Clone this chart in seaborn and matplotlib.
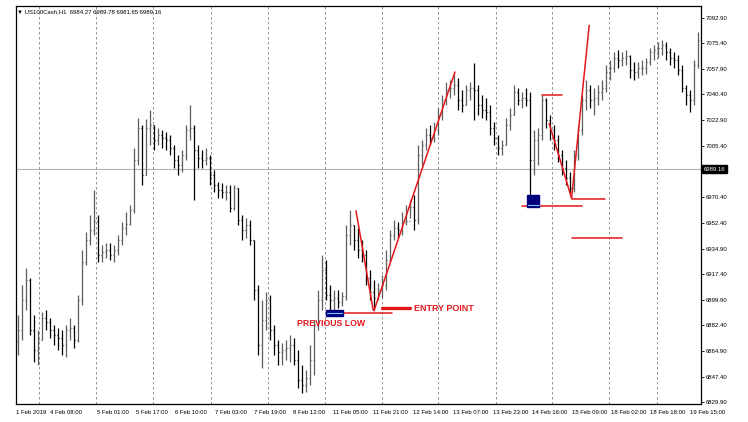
import numpy as np
import pandas as pd
import seaborn as sns
import matplotlib.pyplot as plt
from matplotlib.patches import Rectangle

sns.set_theme(style="white")
plt.rcParams['font.family'] = ['Liberation Sans', 'DejaVu Sans']

# header and last price shown on the chart
symbol_text = "\u25bc US100Cash,H1  6984.27 6989.78 6981.65 6989.16"
last_price = 6989.16

# hourly bars, open = previous close
first_open = 6872.0
high = [
    6889.8, 6910.0, 6921.7, 6914.8, 6889.8, 6879.3,
    6891.6, 6892.9, 6887.5, 6882.7, 6880.6, 6879.3, 6882.7, 6887.5, 6882.7,
    6903.2, 6933.9, 6946.2, 6957.8, 6974.9,
    6957.8, 6937.1, 6938.5, 6939.1, 6937.1,
    6944.2, 6953.0, 6959.9, 6964.7,
    7003.6, 7024.1, 7019.3, 7023.4, 7029.6,
    7019.3, 7017.2, 7015.9, 7014.5, 7012.5,
    7005.6, 6998.8, 7002.2,
    7019.3, 7032.9, 7019.3,
    7005.6, 7002.2, 7003.6, 6998.8, 6988.6,
    6980.4, 6979.7, 6978.3, 6978.3, 6978.3,
    6976.2, 6957.8, 6955.8, 6954.4,
    6940.8, 6910.0, 6899.8, 6905.2, 6903.2,
    6882.7, 6872.4, 6870.4, 6872.4, 6875.9, 6873.8,
    6865.6, 6855.6, 6852.2, 6869.0,
    6886.1, 6906.6, 6930.5, 6927.1,
    6910.0, 6906.6, 6906.6, 6905.2,
    6950.8, 6961.3, 6950.8, 6948.9, 6940.8,
    6933.9, 6920.3, 6913.4,
    6911.3, 6916.8, 6933.9,
    6947.6, 6954.4, 6953.0, 6959.9, 6964.7, 6968.1, 6971.5,
    7005.6, 7009.1, 7017.2, 7019.3, 7021.4,
    7030.9, 7039.8, 7048.7, 7050.1, 7054.8,
    7051.5, 7043.2, 7046.6, 7048.7, 7061.7, 7046.6,
    7039.8, 7037.7, 7032.9, 7021.4, 7012.5, 7009.1,
    7024.1, 7030.9, 7046.6, 7044.6, 7041.8, 7044.6, 7041.8,
    7015.9, 7017.2, 7039.8, 7037.7,
    7026.1, 7019.3, 7012.5, 7002.2, 6995.4, 6987.2,
    7002.2, 7019.3, 7039.8, 7050.1, 7046.6, 7044.6,
    7046.6, 7050.1, 7060.3, 7063.7, 7069.2, 7070.6, 7069.2, 7070.6,
    7067.1, 7062.3, 7062.3, 7063.7, 7065.1, 7071.9, 7074.0, 7076.0, 7077.4, 7076.0,
    7071.9, 7069.2, 7067.1, 7060.3, 7046.6, 7043.2, 7063.7, 7082.9,
]
low = [
    6862.5, 6872.4, 6892.9, 6875.9, 6857.6, 6855.3,
    6872.4, 6879.3, 6873.8, 6869.0, 6865.6, 6862.2, 6860.8, 6872.4, 6867.0,
    6871.1, 6896.3, 6923.7, 6937.4, 6944.2,
    6925.7, 6925.7, 6928.2, 6927.1, 6925.7,
    6930.5, 6937.1, 6944.2, 6950.8,
    6959.2, 6992.0, 6978.3, 6985.1, 7005.6,
    7002.2, 7005.6, 7003.6, 7002.2, 6998.8,
    6989.9, 6985.1, 6987.2,
    6995.4, 7009.1, 6968.1,
    6989.9, 6989.9, 6992.0, 6978.3, 6973.5,
    6969.4, 6969.4, 6968.1, 6959.9, 6961.3,
    6950.8, 6940.8, 6942.2, 6937.4,
    6899.8, 6862.2, 6853.3, 6879.3, 6872.4,
    6862.2, 6855.6, 6855.6, 6858.8, 6857.4, 6855.6,
    6839.6, 6836.2, 6836.9, 6841.7,
    6848.5, 6879.3, 6892.9, 6899.8,
    6891.6, 6892.9, 6894.3, 6895.7,
    6899.8, 6937.4, 6933.9, 6928.4, 6925.7,
    6910.0, 6899.8, 6892.9,
    6899.8, 6901.1, 6906.6,
    6925.7, 6940.8, 6942.2, 6944.2, 6950.8, 6955.8, 6947.6,
    6951.5, 6992.0, 7002.2, 7005.6, 7007.7,
    7012.5, 7022.7, 7032.9, 7037.7, 7039.8,
    7029.6, 7028.2, 7032.9, 7036.4, 7022.7, 7026.1,
    7024.1, 7022.7, 7012.5, 7005.6, 6998.8, 6998.8,
    7005.6, 7015.9, 7026.1, 7033.0, 7030.9, 7032.3, 6968.1,
    6985.1, 6992.0, 7009.1, 7017.2,
    7009.1, 7002.2, 6994.0, 6985.1, 6978.3, 6972.8,
    6973.5, 6995.4, 7012.5, 7029.6, 7030.9, 7026.1,
    7032.9, 7036.4, 7041.8, 7050.1, 7055.5, 7058.3, 7059.6, 7060.3,
    7051.5, 7050.1, 7051.5, 7053.5, 7054.2, 7060.3, 7063.7, 7065.1, 7067.1, 7063.7,
    7060.3, 7058.3, 7053.5, 7041.8, 7032.9, 7028.2, 7033.0, 7058.3,
]
close = [
    6879.3, 6899.8, 6913.4, 6879.3, 6865.6, 6872.4,
    6887.5, 6884.8, 6879.3, 6875.9, 6873.8, 6869.0, 6879.3, 6880.6, 6872.4,
    6899.8, 6925.7, 6940.8, 6947.6, 6954.0,
    6930.5, 6932.6, 6933.9, 6930.5, 6933.9,
    6940.8, 6948.9, 6952.0, 6961.3,
    6995.4, 7017.2, 6985.1, 7017.2, 7019.3,
    7009.1, 7012.5, 7010.4, 7009.1, 7003.6,
    6995.4, 6992.0, 6998.8,
    7015.9, 7017.2, 7002.2,
    6996.7, 6995.4, 6996.7, 6985.1, 6978.3,
    6974.9, 6973.5, 6973.5, 6962.6, 6976.2,
    6954.4, 6947.6, 6950.8, 6940.8,
    6906.6, 6869.0, 6886.1, 6899.8, 6879.3,
    6869.0, 6864.2, 6865.6, 6867.0, 6869.0, 6858.8,
    6845.1, 6841.7, 6846.5, 6858.8,
    6882.7, 6899.8, 6920.3, 6903.2,
    6899.8, 6901.1, 6898.4, 6902.5,
    6944.2, 6950.8, 6940.8, 6933.9, 6930.5,
    6914.8, 6905.2, 6901.1,
    6906.6, 6910.0, 6927.1,
    6944.2, 6948.9, 6947.6, 6953.0, 6954.1, 6963.3, 6954.4,
    6998.8, 7005.6, 7012.5, 7010.4, 7015.9,
    7026.1, 7036.4, 7043.2, 7044.6, 7046.6,
    7036.4, 7033.0, 7043.2, 7044.6, 7043.2, 7033.0,
    7029.6, 7028.2, 7017.2, 7010.4, 7003.6, 7005.6,
    7019.3, 7026.1, 7041.8, 7036.4, 7037.7, 7036.4, 6995.4,
    7009.1, 7012.5, 7036.4, 7022.7,
    7015.9, 7009.1, 6998.8, 6989.9, 6983.1, 6976.2,
    6998.8, 7015.9, 7036.4, 7043.2, 7036.4, 7037.7,
    7041.8, 7044.6, 7055.5, 7058.3, 7065.1, 7063.7, 7065.1, 7066.4,
    7056.9, 7055.5, 7058.3, 7058.3, 7062.3, 7069.2, 7070.6, 7071.9, 7074.0, 7069.2,
    7065.1, 7063.7, 7056.9, 7044.6, 7039.8, 7036.4, 7060.3, 7077.4,
]

time_labels = ["1 Feb 2019", "4 Feb 08:00", "5 Feb 01:00", "5 Feb 17:00", "6 Feb 10:00",
               "7 Feb 03:00", "7 Feb 19:00", "8 Feb 12:00", "11 Feb 05:00", "11 Feb 21:00",
               "12 Feb 14:00", "13 Feb 07:00", "13 Feb 23:00", "14 Feb 16:00", "15 Feb 09:00",
               "18 Feb 02:00", "18 Feb 18:00", "19 Feb 15:00"]
time_label_bars = [-0.5, 8, 19.7, 29.5, 39.25, 49.25, 59, 68.75, 78.75, 88.8,
                   98.8, 108.8, 118.8, 128.6, 138.6, 148.2, 158, 168]
grid_bars = [5.3, 19.6, 33.75, 48.2, 62.5, 76.75, 90.9, 105.1, 119.4, 133.6, 147.8, 159.7]
price_ticks = [7092.90, 7075.40, 7057.90, 7040.40, 7022.90, 7005.40, 6970.40,
               6952.40, 6934.90, 6917.40, 6899.90, 6882.40, 6864.90, 6847.40, 6829.90]

df = pd.DataFrame({"high": high, "low": low, "close": close})
df["open"] = [first_open] + close[:-1]
df["bar"] = np.arange(len(df))
up = df["close"] >= df["open"]

fig = plt.figure(figsize=(7.48, 4.22), dpi=100)
ax = fig.add_axes([16 / 748, 18 / 422, 685 / 748, 398 / 422])

for g in grid_bars:
    ax.axvline(g, color="#808080", lw=0.6, ls=(0, (3, 3)), zorder=0)
ax.axhline(last_price, color="#b4b4b4", lw=0.8, zorder=1)

# OHLC bars
for sel, col in [(up, "#5e5e5e"), (~up, "#000000")]:
    d = df[sel]
    ax.vlines(d["bar"], d["low"], d["high"], color=col, lw=0.9, zorder=2)
    ax.hlines(d["open"], d["bar"] - 0.35, d["bar"], color=col, lw=0.9, zorder=2)
    ax.hlines(d["close"], d["bar"], d["bar"] + 0.35, color=col, lw=0.9, zorder=2)

red = "#e3171c"
for xs, ys in [([84.5, 88.8], [6960.8, 6892.9]),
               ([89.0, 109.25], [6892.5, 7055.7]),
               ([81.25, 93.5], [6890.7, 6890.7]),
               ([125.9, 140.9], [6964.2, 6964.2]),
               ([130.9, 135.9], [7039.8, 7039.8]),
               ([132.8, 138.4], [7020.5, 6969.3]),
               ([138.4, 146.75], [6968.8, 6968.8]),
               ([138.4, 142.8], [6969.5, 7087.6]),
               ([138.4, 150.9], [6942.3, 6942.3])]:
    sns.lineplot(x=xs, y=ys, ax=ax, color=red, lw=1.1, zorder=4)
sns.lineplot(x=[91, 98], y=[6894.1, 6894.1], ax=ax, color=red, lw=2.4, zorder=4)

ax.add_patch(Rectangle((77, 6888.9), 4.25, 4.1, facecolor="#00007f", edgecolor="#00007f", zorder=5))
ax.plot([77.2, 81.0], [6891.0, 6891.0], color="#6ec6ff", lw=0.8, zorder=6)
ax.add_patch(Rectangle((127.3, 6963.5), 3.0, 8.0, facecolor="#00007f", edgecolor="#00007f", zorder=5))
ax.plot([127.4, 130.2], [6964.6, 6964.6], color="#6ec6ff", lw=0.8, zorder=6)

ax.text(99, 6894.1, "ENTRY POINT", color=red, fontsize=6.4, fontweight="bold",
        ha="left", va="center", zorder=6)
ax.text(78.25, 6883.9, "PREVIOUS LOW", color=red, fontsize=6.3, fontweight="bold",
        ha="center", va="center", zorder=6)

ax.text(0.002, 0.985, symbol_text, transform=ax.transAxes, fontsize=4.3,
        ha="left", va="center", color="#000000")

ax.set_xlim(-0.5, 170.75)
ax.set_ylim(6828.7, 7100.8)
ax.yaxis.tick_right()
ax.set_yticks(price_ticks)
ax.set_yticklabels([f"{p:.2f}" for p in price_ticks])
ax.set_xticks(time_label_bars)
ax.set_xticklabels(time_labels, ha="left")
ax.tick_params(axis="both", labelsize=4.3, colors="#000000", length=2, width=0.6, pad=1.5)
ax.tick_params(axis="x", pad=2.5)
ax.text(1.004, last_price, f"{last_price:.2f}", transform=ax.get_yaxis_transform(),
        fontsize=4.3, color="white", ha="left", va="center",
        bbox=dict(boxstyle="square,pad=0.25", fc="black", ec="black"))
for s in ax.spines.values():
    s.set_color("black")
    s.set_linewidth(0.9)
ax.set_xlabel("")
ax.set_ylabel("")

fig.savefig("out.png", dpi=100, facecolor="white")
